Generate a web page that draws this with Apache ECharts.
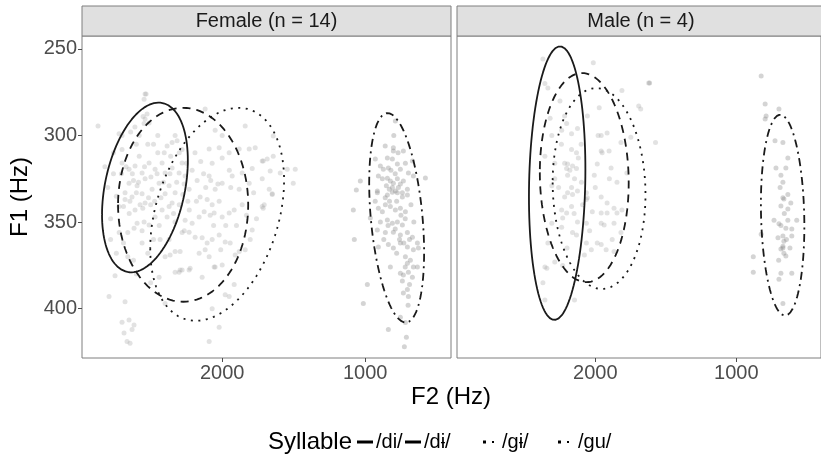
<!DOCTYPE html>
<html><head><meta charset="utf-8">
<script src="https://cdn.jsdelivr.net/npm/echarts@6/dist/echarts.min.js"></script>
<style>html,body{margin:0;padding:0;background:#fff}#c{width:821px;height:460px}</style>
</head><body><div id="c"></div>
<script>
// ---------- data ----------
const panels = ['Female (n = 14)', 'Male (n = 4)'];
const syllables = ['/di/', '/dɨ/', '/gɨ/', '/gu/'];
const xTicks = [2000, 1000];
const yTicks = [250, 300, 350, 400];
const xTitle = 'F2 (Hz)';
const yTitle = 'F1 (Hz)';
const legendTitle = 'Syllable';

// token points [F2, F1]
const femaleFrontPoints = [
[2868,294.5],[2539,276],[2546,279],[2525,287.6],[2539,290.5],[2546,293],[2511,292.8],[2721,299],[2700,308],[2329,300],[2119,284.7],[1839,294.5],[2532,276],[2553,289],
[2700,315.9],[2651,319.4],[2609,317.6],[2560,321.7],[2511,315.9],[2469,319.4],[2420,315.9],[2399,321.7],[2350,318.8],[2301,321.7],[2280,315.9],[2259,323.4],[2651,327.5],[2595,329],[2539,325],[2490,331],[2441,327.5],[2371,329],[2329,333],[2266,328],[2231,331],[2679,333],[2560,333.6],[2399,333.6],
[2385,306],[2350,304],[2315,303],[2280,308],
[2091,307.8],[2021,307],[2070,316],[2000,313],[1951,310],[1881,307.8],[1811,307.8],[1769,307],[1720,314.7],[1790,319],[1860,321.7],[1930,323.4],[2000,327.5],[2049,331],[1811,327.5],[1881,331],[1720,325],[1671,331],[2091,323.4],[2049,297],[2000,300],
[1713,314.7],[1685,313.6],[1643,312],[1664,320.5],[1594,321.7],[1545,319.4],[1489,319.4],[1503,327.5],[1650,333.6],[1643,300.3],[1650,334],[1713,342],
[2721,341],[2679,337],[2630,335.5],[2609,343],[2574,340],[2539,339],[2616,353.5],[2595,350.6],[2546,350],[2511,351.7],[2469,347],[2420,343],[2371,341],[2350,339],[2434,360],[2371,360],[2329,367],[2294,367],[2399,370],[2364,369],[2301,379],[2280,377.7],[2231,377.7],[2280,356],[2231,355.8],[2189,358.7],[2259,349],[2210,350.6],[2161,347],[2154,335.5],[2105,337],[2070,340],[2021,338],[2126,344],[2084,346],[2056,344.8],[2000,347],[1951,344.8],[1916,343],[2140,359],[2105,362],[2070,360],[2161,368],[2119,366],[2091,370],[2021,357.5],[1979,361.5],[1944,362],[2056,376],[2000,374.8],[1909,369],[1839,366],[1804,360],[1790,354.6],[1720,341],[1706,340],[1916,386],[1979,392],[2399,397],[2021,410.7],[2091,419],[2749,381],[2791,393],[2679,396],[2700,407.8],[2651,406.6],[2686,414],[2630,412],[2616,409.5],[2665,419],[2644,420],
[2329,379],[2294,377.7],[2224,376.6],[2140,381.8],[2049,376],[1951,393],[2070,400],[2441,381.8],[1881,367],
[2760,322],[2740,335],[2780,348],[2720,356],[2690,362],[2650,345],[2620,326],[2580,312],[2600,305],[2640,298],[2580,300],[2760,310],[2800,330],[2500,340],[2480,305],[2450,310],[2560,362],[2620,372],[2660,370],[2740,368],[2520,368],
[2705,322],[2672,318],[2628,322],[2585,327],[2543,318],[2498,324],[2455,322],[2410,327],[2365,322],[2318,327],[2275,334],[2240,338],[2690,341],[2645,338],[2600,333],[2555,342],[2515,336],[2472,338],[2428,336],[2385,347],[2340,345],[2300,340],[2265,355],[2230,343],[2700,300],[2610,295],[2520,305],[2450,300],[2405,310],[2360,312],[2300,310],[2250,316],[2210,320],[2175,326],[2150,315],[2130,322],[2115,330],[2080,326],[2060,352],[2030,328],[2010,366],[1975,352],[1940,330],[1900,352],[1860,340],[1830,346],[1780,333],[1760,348],[1950,320],[2180,338],[2190,310],[2330,350],[2440,352],[2480,360],[2560,355],[2660,356],[2780,360],[2820,318],[2600,380],[2500,385]
];
const femaleGuPoints = [
[789,291.6],[803,307],[803,309],[733,309],[929,313.6],[845,313],[810,313.6],[719,316],[670,314.7],[894,317.6],[873,319.4],[838,318.8],[775,316.5],[754,319.4],[698,321.7],[663,323.4],[908,323.4],[880,325],[845,324.6],[824,326.3],[803,327.5],[775,325],[754,328],[733,326.3],[852,329],[831,331],[810,330],[789,332],[768,330],[740,333],[705,331],[915,332],[1034,326.3],[1062,331.5],[579,324.5],
[915,333],[845,334.4],[810,332.7],[775,333],[740,335.5],[705,334.4],[908,342],[859,340],[824,341],[789,343],[754,342],[719,344],[964,347.7],[894,350],[845,348.8],[810,350.6],[775,350],[740,351.7],[915,354.6],[859,356],[803,355.8],[754,357.5],[705,356],[670,358.7],[908,364.4],[838,363],[803,365],[754,362],[705,364.4],[663,366],[635,362],[719,370],[684,372],[705,373.7],[663,376],[698,379],[733,380.6],[670,381.8],[754,379.5],[824,376],[705,389],[698,393],[733,391],[1083,343],[1076,360],[985,386],[1013,397],[838,412],[712,416.5],[726,422],[754,405],[719,408],[628,365],[635,376],
[820,320],[790,322],[860,336],[830,338],[780,338],[750,346],[720,348],[880,344],[840,352],[790,354],[760,360],[730,362],[780,368],[690,360],[720,376],[690,386],[740,384],[700,398],[870,360],[930,338],[800,300],[860,306],[770,310],[680,340],[660,350]
];
const maleFrontPoints = [
[2371,255.8],[2014,258],[2357,270],[2336,272.5],[1622,269.7],[1811,274],[1692,283],[1678,284.7],[1972,284],[1573,304],[2217,288.7],[2056,288.7],[2203,293],[2238,297],[2308,300],[2168,299],[2126,296],[1958,300],[1916,298.5],[1818,304],[1748,301],[2168,308],[2133,310],[2357,312],[2287,316],[2217,316],[2196,316.5],[2161,317.6],[2133,319],[2203,319],[1958,309],[1951,310],[1902,309],[1986,316.5],[1888,318.8],[2007,323],[1846,327],[1776,321.6],[2287,325],[2196,323],[2147,325],[2098,327],[2308,329],[2168,330],[2126,332],[2063,333],
[2196,333],[2161,334],[2217,335.5],[2056,336],[2063,337],[1958,335.5],[1916,339],[2168,341],[2238,343],[2203,344.8],[2021,344],[1958,344.8],[1916,344.8],[1867,342],[1846,344.8],[1811,343],[2126,350],[2063,350.6],[1958,350.6],[1937,351.7],[1867,350.6],[1818,356],[2161,356],[2133,357.5],[2063,362],[1986,362],[1958,363],[1923,366],[1867,367],[2336,362],[2343,376.6],[2357,376],[2231,375],[2287,373],[2077,369],[2028,366],[2371,385],[2357,395],[2147,395],[2231,347.7],[2238,353],[2308,350.6],
[2180,320],[2120,313],[2240,305],[2090,340],[2000,330],[1900,325],[2260,330],[2150,345],[2040,355],[1880,360],[2200,365],[2100,305],[1980,300],[2320,290],[2250,280]
];
const maleGuPoints = [
[824,265.6],[1615,269.7],[796,281.8],[698,284.7],[789,288.7],[796,290.5],[726,303],[670,304],[719,318.8],[649,318.8],[635,313],[684,323],[670,327],[670,336],[663,336.7],[635,334],[614,339],[684,340.7],[635,342.5],[733,349],[698,351],[684,352],[649,353.5],[635,349],[607,354],[572,349],[824,357],[705,359],[670,358],[663,361],[670,364],[684,365.6],[663,368],[649,369.6],[670,365],[607,358],[880,370],[880,379],[684,379.5],[607,379.5],[698,383],[670,397],
[660,345],[690,330],[645,360],[700,372],[620,365]
];

// ellipse summaries per syllable: centre [F2, F1], half-extent [F2, F1], correlation
const femaleEllipseCentre = [[2540,330],[2273,340],[2035,345.5],[780,347.5]];
const femaleEllipseHalf   = [[300,49],[455,56],[468,61.5],[192,60.5]];
const femaleEllipseCorr   = [0.32, 0.0, 0.32, -0.33];
const maleEllipseCentre = [[2270,327.5],[2078,324.3],[1973,330.6],[672,346]];
const maleEllipseHalf   = [[200,79],[315,60.4],[329,58],[154,58]];
const maleEllipseCorr   = [0.1, -0.05, -0.06, -0.11];

// ---------- styling ----------
const FONT = '"Liberation Sans", Arial, Helvetica, sans-serif';
const dashTypes = ['solid', [8, 6], [2, 5.5], [2, 4.5, 8, 4.5]];
const xRange = [400, 2980];
const yRange = [242.5, 428.5];

function ellipsePath(c, h, r) {
  const pts = [];
  const s = Math.sqrt(1 - r * r);
  for (let i = 0; i <= 120; i++) {
    const t = i / 120 * Math.PI * 2;
    pts.push([c[0] + h[0] * Math.cos(t), c[1] + h[1] * (r * Math.cos(t) + s * Math.sin(t))]);
  }
  return pts;
}

const chart = echarts.init(document.getElementById('c'), null, {renderer: 'canvas'});
const grids = [
  {left: 82, top: 36, width: 369, height: 322},
  {left: 457, top: 36, width: 369, height: 322}
];
const series = [];
const pointSets = [[femaleFrontPoints, femaleGuPoints], [maleFrontPoints, maleGuPoints]];
const ell = [
  [femaleEllipseCentre, femaleEllipseHalf, femaleEllipseCorr],
  [maleEllipseCentre, maleEllipseHalf, maleEllipseCorr]
];
[0, 1].forEach(g => {
  series.push({type: 'scatter', xAxisIndex: g, yAxisIndex: g, data: pointSets[g][0], symbolSize: 5,
    itemStyle: {color: 'rgba(165,165,165,0.4)'}, silent: true});
  series.push({type: 'scatter', xAxisIndex: g, yAxisIndex: g, data: pointSets[g][1], symbolSize: 5,
    itemStyle: {color: 'rgba(135,135,135,0.45)'}, silent: true});
  syllables.forEach((s, k) => {
    series.push({type: 'line', name: s, xAxisIndex: g, yAxisIndex: g,
      data: ellipsePath(ell[g][0][k], ell[g][1][k], ell[g][2][k]),
      showSymbol: false, symbol: 'none', smooth: false, silent: true,
      lineStyle: {color: '#1a1a1a', width: 1.8, type: dashTypes[k]}, z: 5});
  });
});

const fmt = v => String(v);
const xAxes = [0, 1].map(g => ({
  type: 'value', gridIndex: g, inverse: true, min: xRange[0], max: xRange[1],
  axisLine: {show: false}, splitLine: {show: false},
  axisTick: {show: true, length: 4, lineStyle: {color: '#4d4d4d'}, customValues: xTicks},
  axisLabel: {show: true, customValues: xTicks, formatter: fmt, color: '#4d4d4d', fontSize: 20, fontFamily: FONT, margin: 5}
}));
const yAxes = [0, 1].map(g => ({
  type: 'value', gridIndex: g, inverse: true, min: yRange[0], max: yRange[1],
  axisLine: {show: false}, splitLine: {show: false},
  axisTick: {show: g === 0, length: 4, lineStyle: {color: '#4d4d4d'}, customValues: yTicks},
  axisLabel: {show: g === 0, customValues: yTicks, formatter: fmt, color: '#4d4d4d', fontSize: 20, fontFamily: FONT, margin: 5}
}));

const graphics = [];
grids.forEach((gr, g) => {
  graphics.push({type: 'rect', shape: {x: gr.left, y: 6, width: gr.width, height: 30},
    style: {fill: '#e0e0e0', stroke: '#7f7f7f', lineWidth: 1}, z: 10});
  graphics.push({type: 'text', x: gr.left + Math.min(gr.width, 821 - gr.left) / 2 + (g === 1 ? 2 : 0), y: 21,
    style: {text: panels[g], fill: '#1a1a1a', font: '20px ' + FONT, align: 'center', verticalAlign: 'middle'}, z: 11});
});
graphics.push({type: 'text', x: 451, y: 397, style: {text: xTitle, fill: '#000', font: '24px ' + FONT, align: 'center', verticalAlign: 'middle'}});
graphics.push({type: 'text', x: 20, y: 197, rotation: Math.PI / 2, style: {text: yTitle, fill: '#000', font: '24px ' + FONT, align: 'center', verticalAlign: 'middle'}});
// legend
const LY = 442;
graphics.push({type: 'text', x: 268, y: LY, style: {text: legendTitle, fill: '#000', font: '24px ' + FONT, align: 'left', verticalAlign: 'middle'}});
const keyX = [357, 405, 481, 556];
const labX = [376, 424, 502, 578];
syllables.forEach((s, k) => {
  if (k < 2) {
    graphics.push({type: 'line', shape: {x1: keyX[k], y1: LY, x2: keyX[k] + 16, y2: LY}, style: {stroke: '#000', lineWidth: 3}});
  } else {
    graphics.push({type: 'rect', shape: {x: keyX[k] + 2, y: LY - 1.5, width: 3, height: 3}, style: {fill: '#000'}});
    graphics.push({type: 'rect', shape: {x: keyX[k] + 11, y: LY - 1, width: 2, height: 2}, style: {fill: '#000'}});
  }
  graphics.push({type: 'text', x: labX[k], y: LY, style: {text: s, fill: '#000', font: '20px ' + FONT, align: 'left', verticalAlign: 'middle'}});
});

chart.setOption({
  animation: false,
  backgroundColor: '#ffffff',
  grid: grids.map(gr => Object.assign({show: true, borderColor: '#7f7f7f', borderWidth: 1, backgroundColor: '#fff'}, gr)),
  xAxis: xAxes,
  yAxis: yAxes,
  series: series,
  graphic: graphics
});
</script>
</body></html>
